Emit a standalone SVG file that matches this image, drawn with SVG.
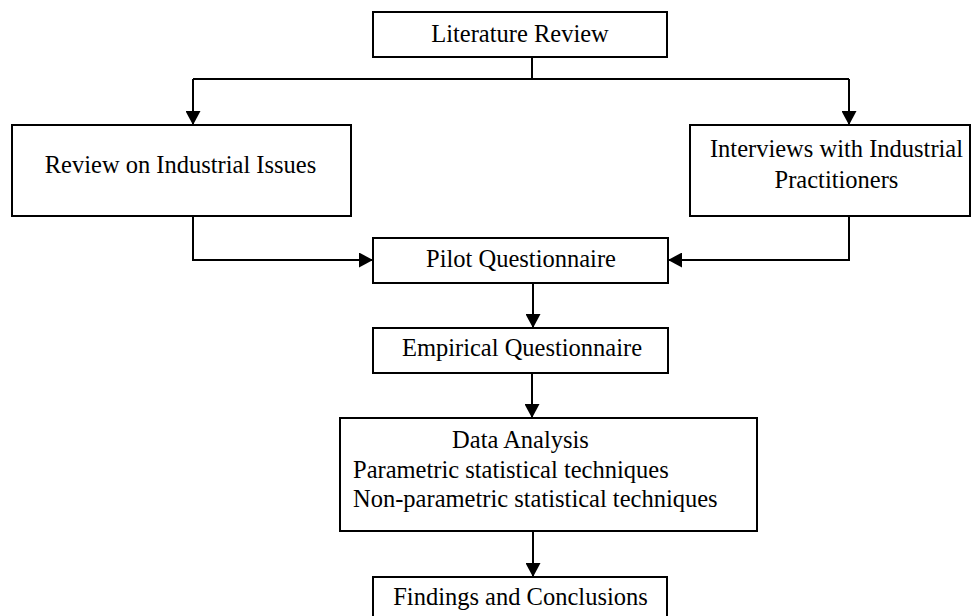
<svg xmlns="http://www.w3.org/2000/svg" width="971" height="616" viewBox="0 0 971 616">
<defs>
<style>
.box{fill:#fff;stroke:#000;stroke-width:2}
.ln{fill:none;stroke:#000;stroke-width:2}
text{font-family:"Liberation Serif","Times New Roman",serif;font-size:24.5px;fill:#000}
.c{text-anchor:middle}
</style>
<marker id="ah" viewBox="0 0 14 15" refX="14" refY="7.5" markerWidth="14" markerHeight="15" markerUnits="userSpaceOnUse" orient="auto">
<path d="M0,0 L14,7.5 L0,15 Z" fill="#000"/>
</marker>
</defs>
<rect width="971" height="616" fill="#fff"/>
<g id="connectors">
<polyline class="ln" points="532,57 532,79"/>
<polyline class="ln" points="193,79 849,79"/>
<polyline class="ln" points="193,79 193,125" marker-end="url(#ah)"/>
<polyline class="ln" points="849,79 849,125" marker-end="url(#ah)"/>
<polyline class="ln" points="193,216 193,260 373,260" marker-end="url(#ah)"/>
<polyline class="ln" points="849,216 849,260 668,260" marker-end="url(#ah)"/>
<polyline class="ln" points="533,283 533,328" marker-end="url(#ah)"/>
<polyline class="ln" points="532,373 532,418" marker-end="url(#ah)"/>
<polyline class="ln" points="533,531 533,577" marker-end="url(#ah)"/>
</g>
<g id="literature">
<rect class="box" x="373" y="12" width="294" height="45"/>
<text class="c" x="520" y="42">Literature Review</text>
</g>
<g id="review">
<rect class="box" x="12" y="125" width="339" height="91"/>
<text class="c" x="180.5" y="173">Review on Industrial Issues</text>
</g>
<g id="interviews">
<rect class="box" x="690" y="125" width="280" height="91"/>
<text class="c" x="836.5" y="157">Interviews with Industrial</text>
<text class="c" x="836.5" y="188">Practitioners</text>
</g>
<g id="pilot">
<rect class="box" x="373" y="238" width="295" height="45"/>
<text class="c" x="521" y="267">Pilot Questionnaire</text>
</g>
<g id="empirical">
<rect class="box" x="373" y="328" width="295" height="45"/>
<text class="c" x="522" y="356">Empirical Questionnaire</text>
</g>
<g id="analysis">
<rect class="box" x="340" y="418" width="417" height="113"/>
<text class="c" x="520.5" y="448">Data Analysis</text>
<text x="353" y="478">Parametric statistical techniques</text>
<text x="353" y="507">Non-parametric statistical techniques</text>
</g>
<g id="findings">
<rect class="box" x="373" y="577" width="294" height="60"/>
<text class="c" x="520.5" y="605">Findings and Conclusions</text>
</g>
</svg>
